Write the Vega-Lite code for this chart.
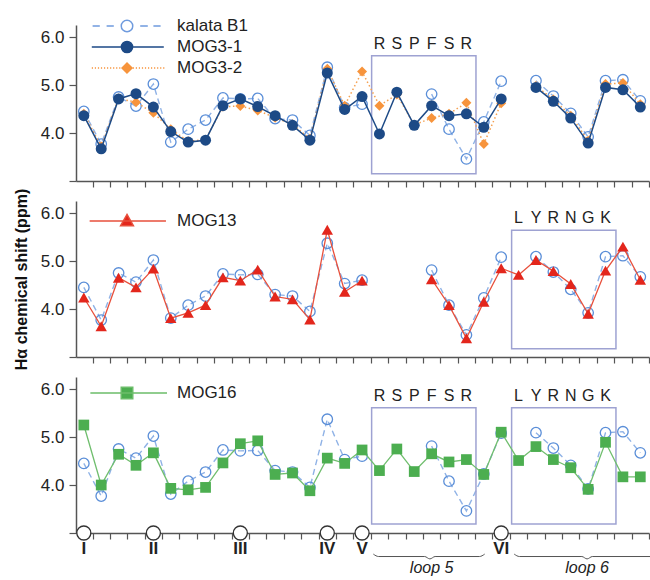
{
  "$schema": "https://vega.github.io/schema/vega-lite/v6.json",
  "padding": {"left": 13, "top": 17, "right": 0, "bottom": 0},
  "bounds": "flush",
  "spacing": 20,
  "config": {
    "view": {"stroke": null},
    "font": "Liberation Sans",
    "axis": {"domainColor": "#555", "tickColor": "#555", "domainWidth": 1.5, "tickWidth": 1.2, "labelFont": "Liberation Sans", "labelFontSize": 17, "labelColor": "#222", "grid": false}
  },
  "datasets": {
    "shifts": [
      {"pos": 0, "kalata B1": 4.45, "MOG3-1": 4.36, "MOG3-2": 4.40, "MOG13": 4.24, "MOG16": 5.25},
      {"pos": 1, "kalata B1": 3.77, "MOG3-1": 3.67, "MOG3-2": 3.72, "MOG13": 3.64, "MOG16": 4.00},
      {"pos": 2, "kalata B1": 4.75, "MOG3-1": 4.71, "MOG3-2": 4.72, "MOG13": 4.65, "MOG16": 4.64},
      {"pos": 3, "kalata B1": 4.56, "MOG3-1": 4.82, "MOG3-2": 4.64, "MOG13": 4.45, "MOG16": 4.41},
      {"pos": 4, "kalata B1": 5.02, "MOG3-1": 4.54, "MOG3-2": 4.42, "MOG13": 4.84, "MOG16": 4.67},
      {"pos": 5, "kalata B1": 3.81, "MOG3-1": 4.03, "MOG3-2": 4.08, "MOG13": 3.81, "MOG16": 3.93},
      {"pos": 6, "kalata B1": 4.08, "MOG3-1": 3.81, "MOG3-2": 3.83, "MOG13": 3.92, "MOG16": 3.90},
      {"pos": 7, "kalata B1": 4.27, "MOG3-1": 3.85, "MOG3-2": 3.86, "MOG13": 4.08, "MOG16": 3.95},
      {"pos": 8, "kalata B1": 4.73, "MOG3-1": 4.57, "MOG3-2": 4.55, "MOG13": 4.66, "MOG16": 4.46},
      {"pos": 9, "kalata B1": 4.71, "MOG3-1": 4.71, "MOG3-2": 4.56, "MOG13": 4.59, "MOG16": 4.86},
      {"pos": 10, "kalata B1": 4.72, "MOG3-1": 4.55, "MOG3-2": 4.47, "MOG13": 4.82, "MOG16": 4.92},
      {"pos": 11, "kalata B1": 4.30, "MOG3-1": 4.36, "MOG3-2": 4.32, "MOG13": 4.26, "MOG16": 4.22},
      {"pos": 12, "kalata B1": 4.27, "MOG3-1": 4.16, "MOG3-2": 4.18, "MOG13": 4.20, "MOG16": 4.25},
      {"pos": 13, "kalata B1": 3.95, "MOG3-1": 3.85, "MOG3-2": 3.88, "MOG13": 3.78, "MOG16": 3.88},
      {"pos": 14, "kalata B1": 5.37, "MOG3-1": 5.25, "MOG3-2": 5.34, "MOG13": 5.65, "MOG16": 4.56},
      {"pos": 15, "kalata B1": 4.53, "MOG3-1": 4.49, "MOG3-2": 4.57, "MOG13": 4.36, "MOG16": 4.45},
      {"pos": 16, "kalata B1": 4.60, "MOG3-1": 4.76, "MOG3-2": 5.28, "MOG13": 4.59, "MOG16": 4.73},
      {"pos": 17, "kalata B1": null, "MOG3-1": 3.98, "MOG3-2": 4.57, "MOG13": null, "MOG16": 4.30},
      {"pos": 18, "kalata B1": null, "MOG3-1": 4.85, "MOG3-2": 4.80, "MOG13": null, "MOG16": 4.75},
      {"pos": 19, "kalata B1": null, "MOG3-1": 4.16, "MOG3-2": 4.17, "MOG13": null, "MOG16": 4.28},
      {"pos": 20, "kalata B1": 4.81, "MOG3-1": 4.57, "MOG3-2": 4.31, "MOG13": 4.62, "MOG16": 4.65},
      {"pos": 21, "kalata B1": 4.08, "MOG3-1": 4.36, "MOG3-2": 4.40, "MOG13": 4.08, "MOG16": 4.48},
      {"pos": 22, "kalata B1": 3.46, "MOG3-1": 4.40, "MOG3-2": 4.63, "MOG13": 3.39, "MOG16": 4.53},
      {"pos": 23, "kalata B1": 4.23, "MOG3-1": 4.12, "MOG3-2": 3.77, "MOG13": 4.15, "MOG16": 4.22},
      {"pos": 24, "kalata B1": 5.08, "MOG3-1": 4.71, "MOG3-2": 4.62, "MOG13": 4.85, "MOG16": 5.10},
      {"pos": 25, "kalata B1": null, "MOG3-1": null, "MOG3-2": null, "MOG13": 4.71, "MOG16": 4.51},
      {"pos": 26, "kalata B1": 5.09, "MOG3-1": 4.95, "MOG3-2": 4.98, "MOG13": 5.02, "MOG16": 4.80},
      {"pos": 27, "kalata B1": 4.77, "MOG3-1": 4.66, "MOG3-2": 4.70, "MOG13": 4.79, "MOG16": 4.53},
      {"pos": 28, "kalata B1": 4.41, "MOG3-1": 4.31, "MOG3-2": 4.36, "MOG13": 4.52, "MOG16": 4.36},
      {"pos": 29, "kalata B1": 3.92, "MOG3-1": 3.79, "MOG3-2": 3.84, "MOG13": 3.90, "MOG16": 3.91},
      {"pos": 30, "kalata B1": 5.09, "MOG3-1": 4.95, "MOG3-2": 5.02, "MOG13": 4.80, "MOG16": 4.89},
      {"pos": 31, "kalata B1": 5.11, "MOG3-1": 4.90, "MOG3-2": 5.04, "MOG13": 5.30, "MOG16": 4.17},
      {"pos": 32, "kalata B1": 4.67, "MOG3-1": 4.54, "MOG3-2": 4.60, "MOG13": 4.61, "MOG16": 4.17}
    ],
    "loop5": [
      {"pos": 17, "aa": "R"}, {"pos": 18, "aa": "S"}, {"pos": 19, "aa": "P"},
      {"pos": 20, "aa": "F"}, {"pos": 21, "aa": "S"}, {"pos": 22, "aa": "R"}
    ],
    "loop6": [
      {"pos": 25, "aa": "L"}, {"pos": 26, "aa": "Y"}, {"pos": 27, "aa": "R"},
      {"pos": 28, "aa": "N"}, {"pos": 29, "aa": "G"}, {"pos": 30, "aa": "K"}
    ],
    "cys": [
      {"pos": 0, "cys": "I"}, {"pos": 4, "cys": "II"}, {"pos": 9, "cys": "III"},
      {"pos": 14, "cys": "IV"}, {"pos": 16, "cys": "V"}, {"pos": 24, "cys": "VI"}
    ]
  },
  "resolve": {
    "scale": {"shape": "independent", "fill": "independent", "stroke": "independent"},
    "legend": {"shape": "independent", "fill": "independent", "stroke": "independent"}
  },
  "vconcat": [
    {
      "width": 573,
      "height": 156,
      "encoding": {
        "x": {"field": "pos", "type": "quantitative", "title": null, "scale": {"domain": [-0.45, 32.5], "nice": false, "zero": false},
              "axis": {"values": [0.5,1.5,2.5,3.5,4.5,5.5,6.5,7.5,8.5,9.5,10.5,11.5,12.5,13.5,14.5,15.5,16.5,17.5,18.5,19.5,20.5,21.5,22.5,23.5,24.5,25.5,26.5,27.5,28.5,29.5,30.5,31.5,32.5], "labels": false, "title": null, "tickSize": 6}}
      },
      "layer": [
        {
          "data": {"name": "shifts"},
          "transform": [{"fold": ["kalata B1"], "as": ["series", "shift"]}],
          "mark": {"type": "line", "color": "#8fb2e6", "strokeDash": [6, 4], "strokeWidth": 1.4, "invalid": "break-paths-filter-domains"},
          "encoding": {"y": {"field": "shift", "type": "quantitative", "title": null, "scale": {"domain": [3, 6.25], "nice": false, "zero": false},
              "axis": {"values": [3, 4, 5, 6], "labelExpr": "datum.value == 3 ? '' : format(datum.value, '.1f')", "tickSize": 7, "labelPadding": 5, "title": null}}}
        },
        {
          "data": {"values": [{"pos": 16.55, "pos2": 22.55}]},
          "mark": {"type": "rect", "filled": false, "color": "#9ea2d2", "strokeWidth": 1.5},
          "encoding": {"x2": {"field": "pos2"}, "y": {"datum": 5.61, "type": "quantitative"}, "y2": {"datum": 3.15}}
        },
        {
          "data": {"name": "loop5"},
          "mark": {"type": "text", "fontSize": 16, "color": "#222", "baseline": "middle"},
          "encoding": {"y": {"datum": 5.85, "type": "quantitative"}, "text": {"field": "aa"}}
        },
        {
          "data": {"name": "shifts"},
          "transform": [{"fold": ["kalata B1"], "as": ["series", "shift"]}],
          "mark": {"type": "point", "shape": "circle", "size": 110, "color": "#5a8ed8", "strokeWidth": 1.3, "filled": false, "opacity": 1},
          "encoding": {"y": {"field": "shift", "type": "quantitative", "title": null}}
        },
        {
          "data": {"name": "shifts"},
          "transform": [{"fold": ["MOG3-2"], "as": ["series", "shift"]}],
          "mark": {"type": "line", "color": "#f5a050", "strokeDash": [1.5, 2.5], "strokeWidth": 1.5, "invalid": "break-paths-filter-domains"},
          "encoding": {"y": {"field": "shift", "type": "quantitative", "title": null}}
        },
        {
          "data": {"name": "shifts"},
          "transform": [{"fold": ["MOG3-2"], "as": ["series", "shift"]}],
          "mark": {"type": "point", "shape": "diamond", "size": 100, "color": "#f7943c", "filled": true, "opacity": 1},
          "encoding": {"y": {"field": "shift", "type": "quantitative", "title": null}}
        },
        {
          "data": {"name": "shifts"},
          "transform": [{"fold": ["MOG3-1"], "as": ["series", "shift"]}],
          "mark": {"type": "line", "color": "#1d4a86", "strokeWidth": 1.5, "invalid": "break-paths-filter-domains"},
          "encoding": {"y": {"field": "shift", "type": "quantitative", "title": null}}
        },
        {
          "data": {"name": "shifts"},
          "transform": [{"fold": ["MOG3-1"], "as": ["series", "shift"]}],
          "mark": {"type": "point", "shape": "circle", "size": 121, "color": "#1d4a86", "filled": true, "opacity": 1},
          "encoding": {"y": {"field": "shift", "type": "quantitative", "title": null}}
        },
        {
          "data": {"values": [{"series": "kalata B1"}, {"series": "MOG3-1"}, {"series": "MOG3-2"}]},
          "mark": {"type": "point", "filled": true},
          "encoding": {
            "y": {"field": "shift", "type": "quantitative", "title": null},
            "shape": {"field": "series", "type": "nominal",
              "scale": {"domain": ["kalata B1", "MOG3-1", "MOG3-2"], "range": [
                "M-4.3,0H-3.4M-2.55,0H-1.65M1.65,0H2.6M3.3,0H4.2M0.72,0C0.72,0.4 0.4,0.72 0,0.72C-0.4,0.72 -0.72,0.4 -0.72,0C-0.72,-0.4 -0.4,-0.72 0,-0.72C0.4,-0.72 0.72,-0.4 0.72,0Z",
                "M-4.4,0H-0.7M0.7,0H4.6M0.7,0C0.7,0.39 0.39,0.7 0,0.7C-0.39,0.7 -0.7,0.39 -0.7,0C-0.7,-0.39 -0.39,-0.7 0,-0.7C0.39,-0.7 0.7,-0.39 0.7,0Z",
                "M-4.4,0H-4.25M-4.02,0H-3.87M-3.64,0H-3.49M-3.26,0H-3.11M-2.88,0H-2.73M-2.5,0H-2.35M-2.12,0H-1.97M-1.74,0H-1.59M-1.36,0H-1.21M-0.98,0H-0.83M0.72,0H0.87M1.1,0H1.25M1.48,0H1.63M1.86,0H2.01M2.24,0H2.39M2.62,0H2.77M3,0H3.15M3.38,0H3.53M3.76,0H3.91M4.14,0H4.29M4.52,0H4.67M-0.62,0L0,-0.62L0.62,0L0,0.62Z"
              ]},
              "legend": {"orient": "none", "legendX": 42, "legendY": -8, "title": null, "padding": 0, "symbolSize": 256, "symbolStrokeWidth": 1.5, "symbolOpacity": 1, "labelFontSize": 17, "labelOffset": 41, "rowPadding": 3, "labelColor": "#222", "labelFont": "Liberation Sans"}},
            "fill": {"field": "series", "type": "nominal", "scale": {"domain": ["kalata B1", "MOG3-1", "MOG3-2"], "range": ["#ffffff", "#1d4a86", "#f7943c"]}},
            "stroke": {"field": "series", "type": "nominal", "scale": {"domain": ["kalata B1", "MOG3-1", "MOG3-2"], "range": ["#6f9bde", "#1d4a86", "#f7943c"]}}
          }
        }
      ]
    },
    {
      "width": 573,
      "height": 156,
      "encoding": {
        "x": {"field": "pos", "type": "quantitative", "title": null, "scale": {"domain": [-0.45, 32.5], "nice": false, "zero": false},
              "axis": {"values": [0.5,1.5,2.5,3.5,4.5,5.5,6.5,7.5,8.5,9.5,10.5,11.5,12.5,13.5,14.5,15.5,16.5,17.5,18.5,19.5,20.5,21.5,22.5,23.5,24.5,25.5,26.5,27.5,28.5,29.5,30.5,31.5,32.5], "labels": false, "title": null, "tickSize": 6}}
      },
      "layer": [
        {
          "data": {"name": "shifts"},
          "transform": [{"fold": ["kalata B1"], "as": ["series", "shift"]}],
          "mark": {"type": "line", "color": "#8fb2e6", "strokeDash": [6, 4], "strokeWidth": 1.4, "invalid": "break-paths-filter-domains"},
          "encoding": {"y": {"field": "shift", "type": "quantitative", "title": "Hα chemical shift (ppm)", "scale": {"domain": [3, 6.25], "nice": false, "zero": false},
              "axis": {"values": [3, 4, 5, 6], "labelExpr": "datum.value == 3 ? '' : format(datum.value, '.1f')", "tickSize": 7, "labelPadding": 5,
                       "title": "Hα chemical shift (ppm)", "titleFontSize": 16, "titleFontWeight": "bold", "titlePadding": 11, "titleFont": "Liberation Sans", "titleColor": "#111"}}}
        },
        {
          "data": {"values": [{"pos": 24.6, "pos2": 30.6}]},
          "mark": {"type": "rect", "filled": false, "color": "#9ea2d2", "strokeWidth": 1.5},
          "encoding": {"x2": {"field": "pos2"}, "y": {"datum": 5.64, "type": "quantitative"}, "y2": {"datum": 3.17}}
        },
        {
          "data": {"name": "loop6"},
          "mark": {"type": "text", "fontSize": 16, "color": "#222", "baseline": "middle"},
          "encoding": {"y": {"datum": 5.9, "type": "quantitative"}, "text": {"field": "aa"}}
        },
        {
          "data": {"name": "shifts"},
          "transform": [{"fold": ["kalata B1"], "as": ["series", "shift"]}],
          "mark": {"type": "point", "shape": "circle", "size": 110, "color": "#5a8ed8", "strokeWidth": 1.3, "filled": false, "opacity": 1},
          "encoding": {"y": {"field": "shift", "type": "quantitative", "title": "Hα chemical shift (ppm)"}}
        },
        {
          "data": {"name": "shifts"},
          "transform": [{"fold": ["MOG13"], "as": ["series", "shift"]}],
          "mark": {"type": "line", "color": "#e8503c", "strokeWidth": 1.3, "invalid": "break-paths-filter-domains"},
          "encoding": {"y": {"field": "shift", "type": "quantitative", "title": "Hα chemical shift (ppm)"}}
        },
        {
          "data": {"name": "shifts"},
          "transform": [{"fold": ["MOG13"], "as": ["series", "shift"]}],
          "mark": {"type": "point", "shape": "triangle-up", "size": 130, "color": "#e3261c", "filled": true, "opacity": 1},
          "encoding": {"y": {"field": "shift", "type": "quantitative", "title": "Hα chemical shift (ppm)"}}
        },
        {
          "data": {"values": [{"series": "MOG13"}]},
          "mark": {"type": "point", "filled": true},
          "encoding": {
            "y": {"field": "shift", "type": "quantitative", "title": "Hα chemical shift (ppm)"},
            "shape": {"field": "series", "type": "nominal",
              "scale": {"domain": ["MOG13"], "range": ["M-4.67,0H4.87M0,-0.82L0.8,0.58L-0.8,0.58Z"]},
              "legend": {"orient": "none", "legendX": 42, "legendY": 11, "title": null, "padding": 0, "symbolSize": 256, "symbolStrokeWidth": 1.5, "symbolOpacity": 1, "labelFontSize": 17, "labelOffset": 41, "labelColor": "#222", "labelFont": "Liberation Sans"}},
            "fill": {"field": "series", "type": "nominal", "scale": {"domain": ["MOG13"], "range": ["#e3261c"]}},
            "stroke": {"field": "series", "type": "nominal", "scale": {"domain": ["MOG13"], "range": ["#e8503c"]}}
          }
        }
      ]
    },
    {
      "width": 573,
      "height": 156,
      "encoding": {
        "x": {"field": "pos", "type": "quantitative", "title": null, "scale": {"domain": [-0.45, 32.5], "nice": false, "zero": false},
              "axis": {"values": [0.5,1.5,2.5,3.5,4.5,5.5,6.5,7.5,8.5,9.5,10.5,11.5,12.5,13.5,14.5,15.5,16.5,17.5,18.5,19.5,20.5,21.5,22.5,23.5,24.5,25.5,26.5,27.5,28.5,29.5,30.5,31.5,32.5], "labels": false, "title": null, "tickSize": 6}}
      },
      "layer": [
        {
          "data": {"name": "shifts"},
          "transform": [{"fold": ["kalata B1"], "as": ["series", "shift"]}],
          "mark": {"type": "line", "color": "#8fb2e6", "strokeDash": [6, 4], "strokeWidth": 1.4, "invalid": "break-paths-filter-domains"},
          "encoding": {"y": {"field": "shift", "type": "quantitative", "title": null, "scale": {"domain": [3, 6.25], "nice": false, "zero": false},
              "axis": {"values": [3, 4, 5, 6], "labelExpr": "datum.value == 3 ? '' : format(datum.value, '.1f')", "tickSize": 7, "labelPadding": 5, "title": null}}}
        },
        {
          "data": {"values": [{"pos": 16.55, "pos2": 22.55}, {"pos": 24.6, "pos2": 30.6}]},
          "mark": {"type": "rect", "filled": false, "color": "#9ea2d2", "strokeWidth": 1.5},
          "encoding": {"x2": {"field": "pos2"}, "y": {"datum": 5.61, "type": "quantitative"}, "y2": {"datum": 3.19}}
        },
        {
          "data": {"name": "loop5"},
          "mark": {"type": "text", "fontSize": 16, "color": "#222", "baseline": "middle"},
          "encoding": {"y": {"datum": 5.86, "type": "quantitative"}, "text": {"field": "aa"}}
        },
        {
          "data": {"name": "loop6"},
          "mark": {"type": "text", "fontSize": 16, "color": "#222", "baseline": "middle"},
          "encoding": {"y": {"datum": 5.86, "type": "quantitative"}, "text": {"field": "aa"}}
        },
        {
          "data": {"name": "shifts"},
          "transform": [{"fold": ["kalata B1"], "as": ["series", "shift"]}],
          "mark": {"type": "point", "shape": "circle", "size": 110, "color": "#5a8ed8", "strokeWidth": 1.3, "filled": false, "opacity": 1},
          "encoding": {"y": {"field": "shift", "type": "quantitative", "title": null}}
        },
        {
          "data": {"name": "shifts"},
          "transform": [{"fold": ["MOG16"], "as": ["series", "shift"]}],
          "mark": {"type": "line", "color": "#70be6e", "strokeWidth": 1.3, "invalid": "break-paths-filter-domains"},
          "encoding": {"y": {"field": "shift", "type": "quantitative", "title": null}}
        },
        {
          "data": {"name": "shifts"},
          "transform": [{"fold": ["MOG16"], "as": ["series", "shift"]}],
          "mark": {"type": "point", "shape": "square", "size": 115, "color": "#4cae50", "filled": true, "opacity": 1},
          "encoding": {"y": {"field": "shift", "type": "quantitative", "title": null}}
        },
        {
          "data": {"name": "cys"},
          "mark": {"type": "point", "shape": "circle", "size": 196, "fill": "#ffffff", "stroke": "#333", "strokeWidth": 1.3, "filled": true, "opacity": 1, "fillOpacity": 1},
          "encoding": {"y": {"datum": 3, "type": "quantitative"}}
        },
        {
          "data": {"name": "cys"},
          "mark": {"type": "text", "fontSize": 17, "fontWeight": "bold", "color": "#222", "baseline": "middle", "dy": 16},
          "encoding": {"y": {"datum": 3, "type": "quantitative"}, "text": {"field": "cys"}}
        },
        {
          "data": {"values": [
            {"loop": "loop 5", "pos": 16.65, "shift": 2.56}, {"loop": "loop 5", "pos": 16.95, "shift": 2.51}, {"loop": "loop 5", "pos": 19.6, "shift": 2.51}, {"loop": "loop 5", "pos": 19.9, "shift": 2.46}, {"loop": "loop 5", "pos": 20.2, "shift": 2.51}, {"loop": "loop 5", "pos": 22.75, "shift": 2.51}, {"loop": "loop 5", "pos": 23.05, "shift": 2.56},
            {"loop": "loop 6", "pos": 24.75, "shift": 2.56}, {"loop": "loop 6", "pos": 25.05, "shift": 2.51}, {"loop": "loop 6", "pos": 28.64, "shift": 2.51}, {"loop": "loop 6", "pos": 28.94, "shift": 2.46}, {"loop": "loop 6", "pos": 29.24, "shift": 2.51}, {"loop": "loop 6", "pos": 32.6, "shift": 2.51}
          ]},
          "mark": {"type": "line", "color": "#555", "strokeWidth": 1, "interpolate": "monotone"},
          "encoding": {"y": {"field": "shift", "type": "quantitative", "title": null}, "detail": {"field": "loop"}}
        },
        {
          "data": {"values": [{"pos": 20.0, "loop": "loop 5"}, {"pos": 28.94, "loop": "loop 6"}]},
          "mark": {"type": "text", "fontSize": 16, "fontStyle": "italic", "color": "#222", "baseline": "middle", "dy": 35},
          "encoding": {"y": {"datum": 3, "type": "quantitative"}, "text": {"field": "loop"}}
        },
        {
          "data": {"values": [{"series": "MOG16"}]},
          "mark": {"type": "point", "filled": true},
          "encoding": {
            "y": {"field": "shift", "type": "quantitative", "title": null},
            "shape": {"field": "series", "type": "nominal",
              "scale": {"domain": ["MOG16"], "range": ["M-4.58,0H5M-0.72,-0.72H0.72V0.72H-0.72Z"]},
              "legend": {"orient": "none", "legendX": 42, "legendY": 7, "title": null, "padding": 0, "symbolSize": 256, "symbolStrokeWidth": 1.5, "symbolOpacity": 1, "labelFontSize": 17, "labelOffset": 41, "labelColor": "#222", "labelFont": "Liberation Sans"}},
            "fill": {"field": "series", "type": "nominal", "scale": {"domain": ["MOG16"], "range": ["#4cae50"]}},
            "stroke": {"field": "series", "type": "nominal", "scale": {"domain": ["MOG16"], "range": ["#6cbd6a"]}}
          }
        }
      ]
    }
  ]
}
